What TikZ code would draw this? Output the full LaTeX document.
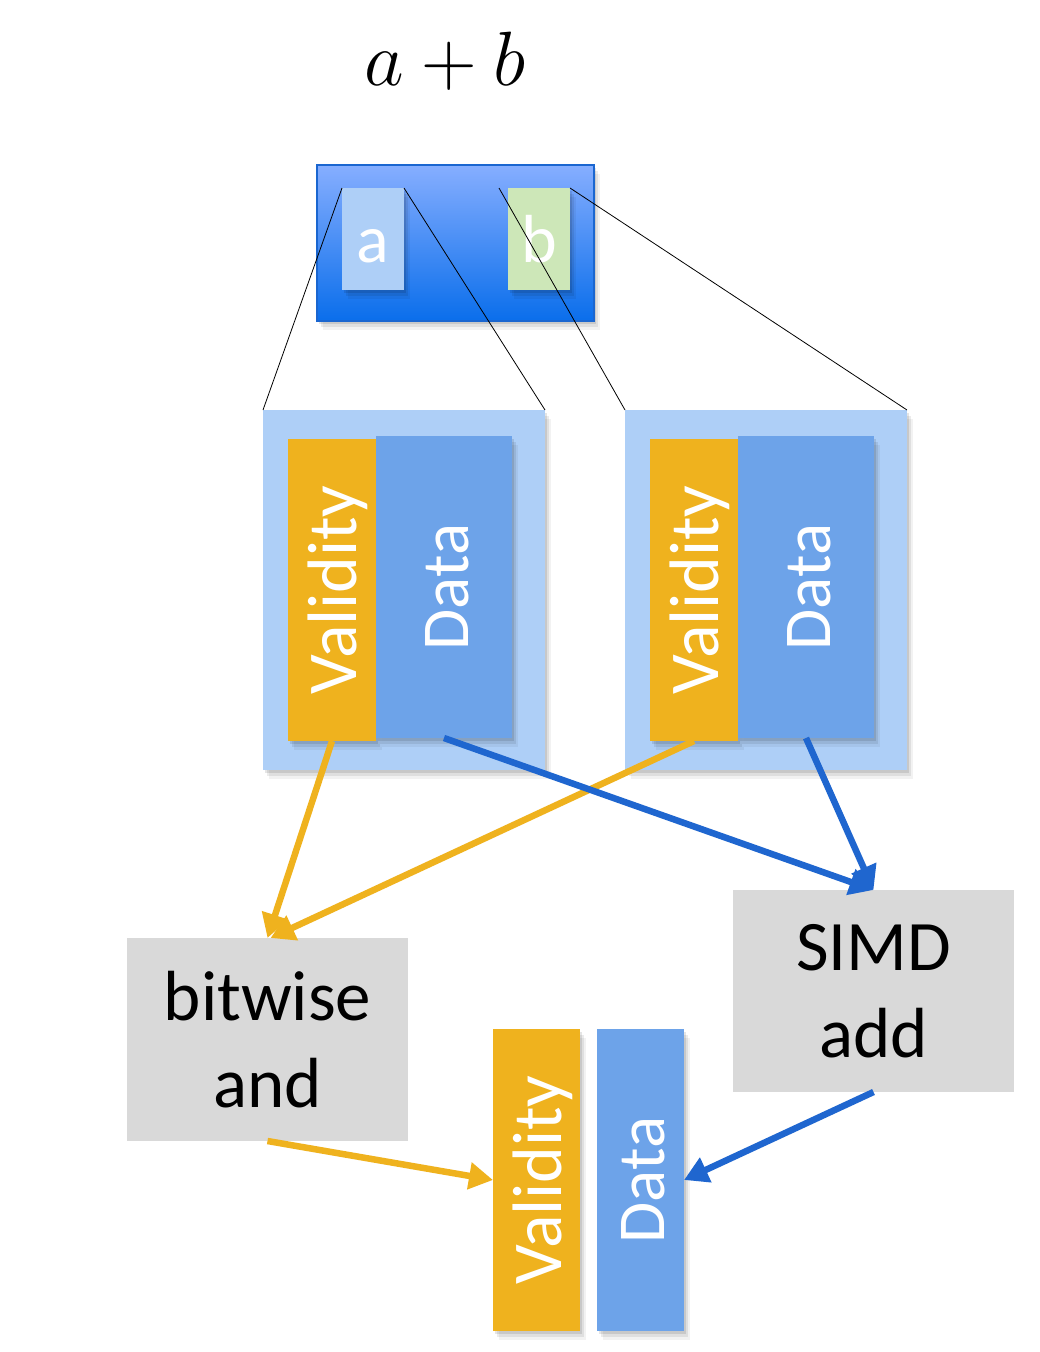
\RequirePackage{fix-cm}
\documentclass[tikz,border=0pt]{standalone}
\usepackage{fontspec}
\setmainfont{Carlito}
\usetikzlibrary{arrows.meta,shadows}
\definecolor{contblue}{HTML}{AECFF7}
\definecolor{valor}{HTML}{EFB21E}
\definecolor{datab}{HTML}{6DA3E9}
\definecolor{opgray}{HTML}{D9D9D9}
\definecolor{arrblue}{HTML}{1F66CF}
\definecolor{topA}{HTML}{86AEFF}
\definecolor{topB}{HTML}{5E98F5}
\definecolor{topC}{HTML}{0A6EEB}
\definecolor{topborder}{HTML}{1A66D0}
\definecolor{aboxc}{HTML}{AECFF7}
\definecolor{bboxc}{HTML}{CDE7B8}
\tikzset{
  rect/.style={rectangle, inner sep=0pt, outer sep=0pt},
  shad/.style={
    drop shadow={shadow xshift=2pt,shadow yshift=-3pt,opacity=0.10,fill=black},
    drop shadow={shadow xshift=4pt,shadow yshift=-6pt,opacity=0.08,fill=black},
    drop shadow={shadow xshift=6pt,shadow yshift=-9pt,opacity=0.05,fill=black}},
  container/.style={rect, shad, fill=contblue, minimum width=282pt, minimum height=360pt},
  valbar/.style={rect, shad, fill=valor, minimum width=88pt, minimum height=302pt},
  databar/.style={rect, shad, fill=datab, minimum width=136pt, minimum height=302pt},
  resbar/.style={rect, shad, minimum width=87pt, minimum height=302pt},
  opbox/.style={rect, fill=opgray, minimum width=281pt, minimum height=203pt, align=center,
     font=\fontsize{71}{87}\selectfont},
  vtext/.style={inner sep=0pt, outer sep=0pt, rotate=90, anchor=base, text=white,
     font=\fontsize{70}{80}\selectfont},
  dtext/.style={inner sep=0pt, outer sep=0pt, rotate=90, anchor=base, text=white,
     font=\fontsize{67}{80}\selectfont},
  smallbox/.style={rect, shad, minimum width=62pt, minimum height=102pt},
  lbl/.style={inner sep=0pt, outer sep=0pt, anchor=base, text=white, font=\fontsize{68}{80}\selectfont},
  thin/.style={draw=black, line width=0.8pt},
  arrO/.style={draw=valor, line width=6.5pt, -{Triangle[length=24pt,width=26pt]}},
  arrB/.style={draw=arrblue, line width=6.5pt, -{Triangle[length=24pt,width=26pt]}},
}
\begin{document}
\begin{tikzpicture}[x=1pt,y=-1pt]
\useasboundingbox[fill=white] (0,0) rectangle (1040,1352);

% title
\node[inner sep=0pt, anchor=base, font=\fontsize{77}{80}\selectfont] (title) at (445,85) {$a+b$};

% top register
\node[rect, shad, minimum width=277pt, minimum height=156pt, draw=topborder, line width=2pt,
  top color=topA, middle color=topB, bottom color=topC] (reg) at (455.5,243) {};
\node[smallbox, fill=aboxc] (abox) at (373,239) {};
\node[lbl] (alab) at (373,262) {a};
\node[smallbox, fill=bboxc] (bbox) at (539,239) {};
\node[lbl] (blab) at (539,262) {b};

% containers
\node[container] (lc) at (404,590) {};
\node[valbar] (lv) at (332,590) {};
\node[databar] (ld) at (444,587) {};
\node[vtext] (lvt) at (356,590) {Validity};
\node[dtext] (ldt) at (468,587) {Data};

\node[container] (rc) at (766,590) {};
\node[valbar] (rv) at (694,590) {};
\node[databar] (rd) at (806,587) {};
\node[vtext] (rvt) at (718,590) {Validity};
\node[dtext] (rdt) at (830,587) {Data};

% operations
\node[opbox] (andop) at (267.5,1039.5) {bitwise\\and};
\node[opbox, minimum height=202pt] (simd) at (873.5,991) {SIMD\\add};

% result
\node[resbar, fill=valor] (resv) at (536.5,1180) {};
\node[resbar, fill=datab] (resd) at (640.5,1180) {};
\node[vtext] (resvt) at (561,1180) {Validity};
\node[dtext] (resdt) at (664,1180) {Data};

% zoom lines
\draw[thin] (abox.north west) -- (lc.north west);
\draw[thin] (abox.north east) -- (lc.north east);
\draw[thin] ([xshift=-9pt]bbox.north west) -- (rc.north west);
\draw[thin] (bbox.north east) -- (rc.north east);

% data flow
\draw[arrO] (lv.south) -- (andop.north);
\draw[arrO] (rv.south) -- ([xshift=3pt]andop.north);
\draw[arrB] (ld.south) -- (simd.north);
\draw[arrB] (rd.south) -- (simd.north);
\draw[arrO] (andop.south) -- (resv.west);
\draw[arrB] (simd.south) -- (resd.east);
\end{tikzpicture}
\end{document}
